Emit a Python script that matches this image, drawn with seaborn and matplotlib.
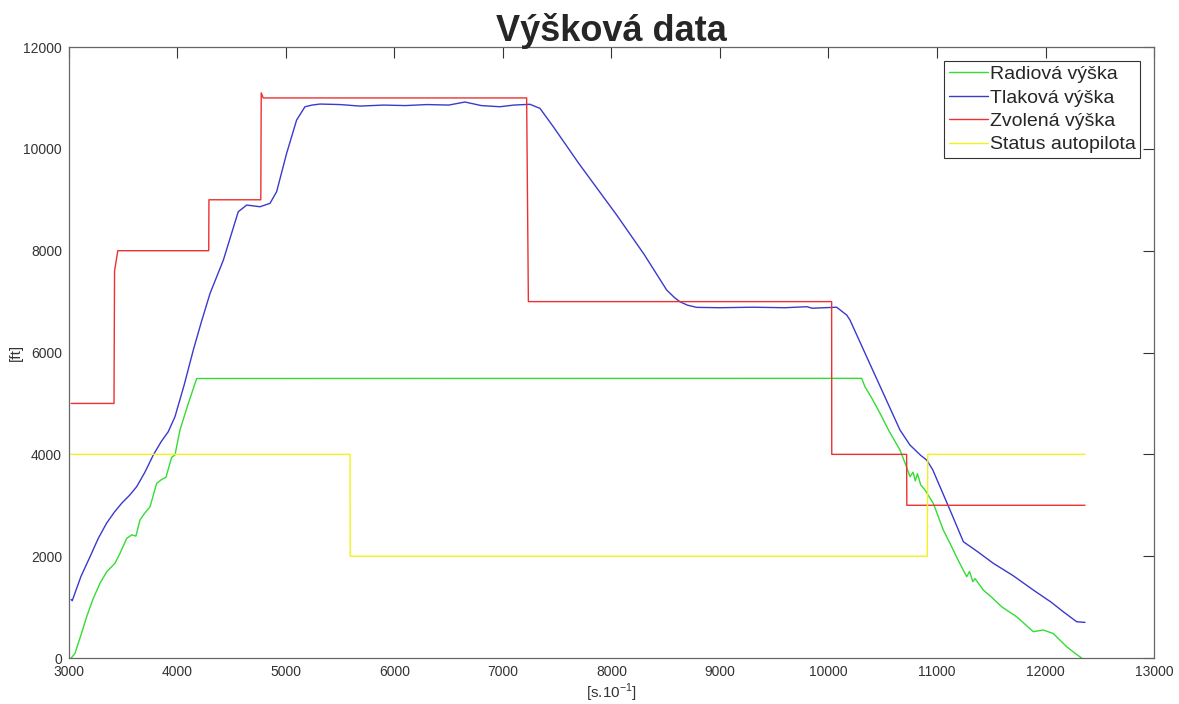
import matplotlib
matplotlib.use('Agg')
import matplotlib.pyplot as plt
import seaborn as sns

# Radiová výška
green_x = [3020, 3055, 3110, 3163, 3220, 3286, 3350, 3424, 3470, 3532, 3580, 3617, 3654, 3700,
           3747, 3808, 3850, 3894, 3946, 3977, 4023, 4100, 4177, 10306, 10336, 10400, 10475,
           10560, 10659, 10720, 10751, 10780, 10800, 10820, 10850, 10889, 10966, 11058, 11120,
           11200, 11274, 11300, 11330, 11350, 11427, 11500, 11600, 11734, 11888, 11980, 12072,
           12195, 12280, 12333]
green_y = [0, 90, 450, 810, 1150, 1470, 1700, 1860, 2055, 2350, 2420, 2395, 2710, 2850,
           2970, 3430, 3500, 3550, 3940, 3990, 4480, 5000, 5490, 5493, 5328, 5100, 4805,
           4450, 4085, 3750, 3561, 3650, 3480, 3620, 3400, 3300, 3038, 2514, 2252,
           1900, 1597, 1700, 1500, 1560, 1335, 1200, 1000, 811, 517, 550, 480,
           222, 80, 0]

# Tlaková výška
blue_x = [3020, 3030, 3055, 3110, 3194, 3270, 3347, 3420, 3486, 3560, 3624, 3700, 3777, 3850,
          3915, 3977, 4060, 4146, 4220, 4300, 4423, 4500, 4560, 4638, 4700, 4760, 4853, 4914,
          5006, 5098, 5175, 5240, 5313, 5500, 5682, 5900, 6100, 6300, 6500, 6650, 6800, 6972,
          7100, 7249, 7341, 7464, 7700, 8048, 8300, 8509, 8580, 8631, 8700, 8785, 9000, 9300,
          9600, 9800, 9850, 10075, 10168, 10198, 10400, 10659, 10751, 10850, 10905, 10960,
          11120, 11243, 11380, 11519, 11700, 11888, 12050, 12164, 12287, 12364]
blue_y = [1150, 1125, 1275, 1600, 1990, 2350, 2650, 2870, 3040, 3200, 3365, 3650, 3987, 4250,
          4445, 4740, 5350, 6050, 6600, 7160, 7816, 8350, 8765, 8896, 8880, 8863, 8930, 9160,
          9912, 10566, 10827, 10860, 10880, 10870, 10840, 10860, 10850, 10870, 10860, 10920,
          10850, 10827, 10860, 10875, 10795, 10434, 9710, 8700, 7930, 7227, 7080, 6997, 6930,
          6887, 6880, 6890, 6880, 6900, 6870, 6890, 6736, 6638, 5690, 4478, 4183, 3980, 3888,
          3700, 2907, 2284, 2080, 1860, 1620, 1335, 1100, 909, 713, 700]

# Zvolená výška
red_x = [3020, 3415, 3420, 3450, 4288, 4290, 4768, 4772, 4790, 7218, 7234, 10029, 10030,
         10720, 10722, 12364]
red_y = [5000, 5000, 7600, 8000, 8000, 9000, 9000, 11100, 11000, 11000, 7000, 7000, 4000,
         4000, 3000, 3000]

# Status autopilota
yellow_x = [3020, 5590, 5592, 10910, 10915, 12364]
yellow_y = [4000, 4000, 2000, 2000, 4000, 4000]

series = [
    ('Radiová výška', green_x, green_y, '#33dd33'),
    ('Tlaková výška', blue_x, blue_y, '#3a3acc'),
    ('Zvolená výška', red_x, red_y, '#ee3030'),
    ('Status autopilota', yellow_x, yellow_y, '#f2f21a'),
]

sns.set_style('white')
plt.rcParams['font.family'] = ['Liberation Sans', 'DejaVu Sans']
plt.rcParams['mathtext.fontset'] = 'custom'
plt.rcParams['mathtext.rm'] = 'Liberation Sans'

fig = plt.figure(figsize=(11.79, 7.04), dpi=100)
ax = fig.add_axes([0.0585, 0.0653, 0.9203, 0.8679])

for label, xs, ys, color in series:
    sns.lineplot(x=xs, y=ys, ax=ax, color=color, label=label, linewidth=1.0,
                 estimator=None, sort=False)

ax.set_xlim(3000, 13000)
ax.set_ylim(0, 12000)
ax.set_xticks(range(3000, 13001, 1000))
ax.set_yticks(range(0, 12001, 2000))
ax.tick_params(direction='in', length=8, width=0.8, colors='#333333', labelsize=10,
               top=True, right=True, pad=5)
for spine in ax.spines.values():
    spine.set_color('#666666')
    spine.set_linewidth(0.9)

ax.set_title('Výšková data', fontsize=26, fontweight='bold', pad=4)
ax.set_xlabel('[s.10$^{-1}$]', fontsize=11, color='#333333', labelpad=2)
ax.set_ylabel('[ft]', fontsize=11, color='#333333', labelpad=0)

leg = ax.legend(loc='upper right', fontsize=14, frameon=True, fancybox=False,
                edgecolor='#333333', framealpha=1, handlelength=2.0, handletextpad=0.1,
                labelspacing=0.3, borderpad=0.25, borderaxespad=0.7)
leg.get_frame().set_linewidth(0.8)

fig.savefig('out.png', dpi=100)
